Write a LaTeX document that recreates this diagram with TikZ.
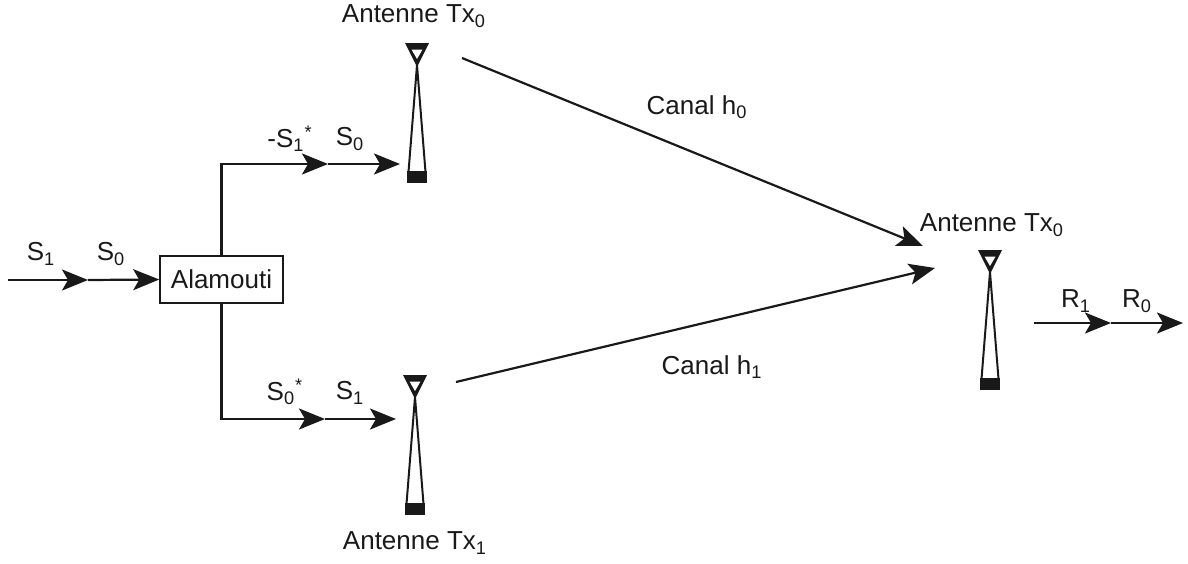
\documentclass[tikz,border=0pt]{standalone}
\usepackage{fontspec}
\setmainfont{Liberation Sans}
\usetikzlibrary{arrows.meta}
\tikzset{
    signal/.style={-{Stealth[length=13pt,width=10.5pt,inset=3pt]}, line width=1.1pt, black!90},
    label/.style={font=\fontsize{13}{15}\selectfont, inner sep=0pt, black!90},
    pics/antenna/.style={code={
        % triangle du haut
        \fill[black!90] (-12,-22) -- (12,-22) -- (0,2) -- cycle;
        \fill[white] (-5.5,-15.5) -- (5.5,-15.5) -- (0,-6) -- cycle;
        % mat
        \draw[line width=1pt, black!90] (0,0) -- (-8.5,107);
        \draw[line width=1pt, black!90] (0,0) -- (8.5,107);
        % socle
        \fill[black!90] (-10,106) rectangle (10,118);
    }}
}
\begin{document}
\begin{tikzpicture}[x=0.5pt, y=-0.5pt]
    \useasboundingbox (0,0) rectangle (1188,563);
    % ----------- noeuds -----------
    \node[draw, line width=0.8pt, black!90, minimum width=61.5pt, minimum height=23.5pt, inner sep=0pt,
        font=\fontsize{13}{15}\selectfont] (alamouti) at (221.5,279.5) {Alamouti};
    \coordinate (inS) at (8,280);
    \coordinate (midS) at (88,280);
    \coordinate (cornerT) at (221.5,164);
    \coordinate (midT) at (328,164);
    \coordinate (txT) at (400,164);
    \coordinate (cornerB) at (221.5,419);
    \coordinate (midB) at (325,419);
    \coordinate (txB) at (396,419);
    \coordinate (fromT) at (462,58);
    \coordinate (toT) at (923,246);
    \coordinate (fromB) at (456,382);
    \coordinate (toB) at (935,268);
    \coordinate (inR) at (1034,323);
    \coordinate (midR) at (1111,323);
    \coordinate (outR) at (1183,323);

    % ----------- antennes -----------
    \pic at (417,65) {antenna};
    \pic at (415,397) {antenna};
    \pic at (990,272) {antenna};

    % ----------- entree -----------
    \draw[signal] (inS) -- (midS);
    \draw[signal] (midS) -- (alamouti.west);

    % ----------- branche du haut -----------
    \draw[signal] (alamouti.north) -- (cornerT) -- (midT);
    \draw[signal] (midT) -- (txT);

    % ----------- branche du bas -----------
    \draw[signal] (alamouti.south) -- (cornerB) -- (midB);
    \draw[signal] (midB) -- (txB);

    % ----------- canaux -----------
    \draw[signal] (fromT) -- (toT);
    \draw[signal] (fromB) -- (toB);

    % ----------- sortie -----------
    \draw[signal] (inR) -- (midR);
    \draw[signal] (midR) -- (outR);

    % ----------- textes -----------
    \node[label] (lblS1) at (41,254) {S\textsubscript{1}};
    \node[label] (lblS0) at (111,254) {S\textsubscript{0}};
    \node[label] (lblTxT) at (414,16) {Antenne Tx\textsubscript{0}};
    \node[label] (lblTxB) at (415,543) {Antenne Tx\textsubscript{1}};
    \node[label] (lblTxR) at (992,225) {Antenne Tx\textsubscript{0}};
    \node[label] (lblNegS) at (290,139) {-S\textsubscript{1}\textsuperscript{*}};
    \node[label] (lblTopS) at (350,139) {S\textsubscript{0}};
    \node[label] (lblBotStar) at (285,392) {S\textsubscript{0}\textsuperscript{*}};
    \node[label] (lblBotS) at (350,393) {S\textsubscript{1}};
    \node[label] (lblH0) at (697,107) {Canal h\textsubscript{0}};
    \node[label] (lblH1) at (712,367) {Canal h\textsubscript{1}};
    \node[label] (lblR1) at (1076,301) {R\textsubscript{1}};
    \node[label] (lblR0) at (1137,301) {R\textsubscript{0}};
\end{tikzpicture}
\end{document}
